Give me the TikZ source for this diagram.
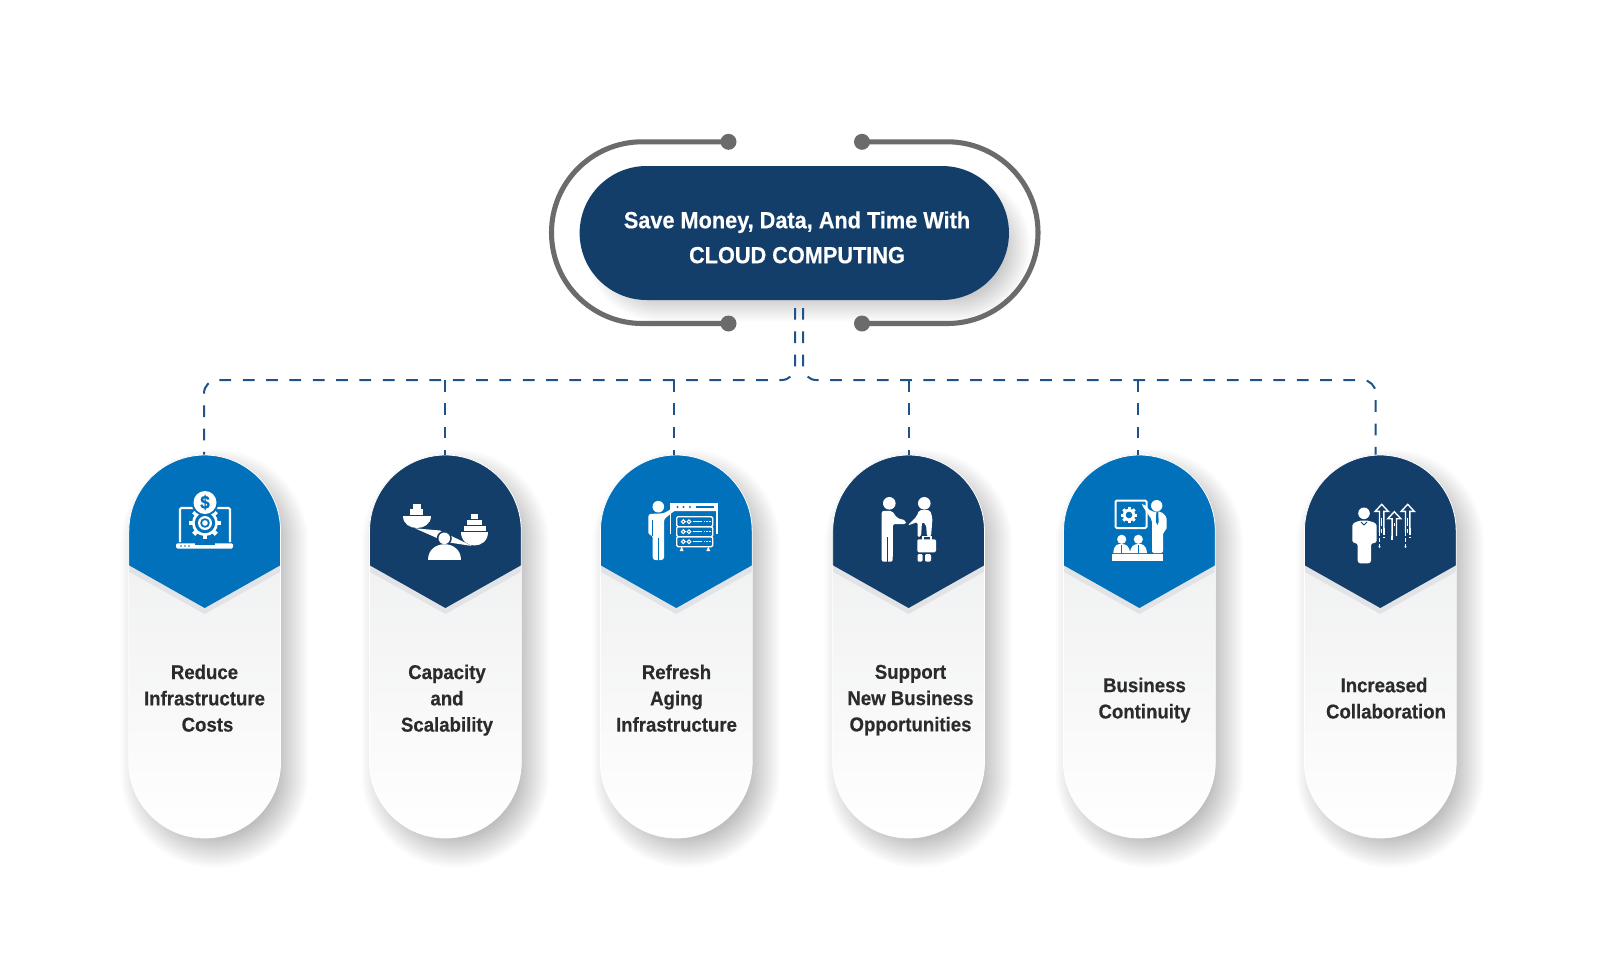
\documentclass[tikz,border=0pt]{standalone}
\usepackage{fontspec}
\setmainfont[FakeStretch=0.93,BoldFeatures={FakeBold=0.4}]{Liberation Sans}
\definecolor{brandblue}{HTML}{0071BA}
\definecolor{brandnavy}{HTML}{133E6A}
\definecolor{ringgray}{HTML}{6B6B6B}
\definecolor{busblue}{HTML}{1F5288}
\definecolor{labelink}{HTML}{2B2B2B}
\definecolor{bandgray}{HTML}{E2E3E6}
\definecolor{cardtop}{HTML}{ECEDEE}

% soft drop shadow: centre x, centre y, half width, half height, radius,
% outermost growth, layer opacity; 32 layers shrinking one unit each
\newcommand\softshadow[7]{%
  \foreach \k in {0,...,31}{%
    \pgfmathsetmacro\e{#6-\k}%
    \pgfmathsetmacro\rr{(#5+\e)*0.75}%
    \fill[black,opacity=#7,rounded corners=\rr pt]
      (#1-#3-\e,#2-#4-\e) rectangle (#1+#3+\e,#2+#4+\e);
  }%
}
% toothed wheel: x, y, body radius, tooth radius, tooth half width
\newcommand\cogwheel[5]{%
  \fill[white] (#1,#2) circle[radius=#3];
  \foreach \a in {0,45,90,135}{%
    \fill[white,rotate around={\a:(#1,#2)}] (#1-#5,#2-#4) rectangle (#1+#5,#2+#4);
  }%
}
% open outlined upward arrow with a broken shaft: x, tip y, bottom y
\newcommand\risingarrow[3]{%
  \draw[white,line width=1.05pt,line join=miter]
    (#1-2.2,#2+28) -- (#1-2.2,#2+7) -- (#1-6.5,#2+7) -- (#1,#2) -- (#1+6.5,#2+7) -- (#1+2.2,#2+7) -- (#1+2.2,#2+24);
  \draw[white,line width=1.05pt,dash pattern=on 3pt off 1.2pt] (#1-2.2,#2+28) -- (#1-2.2,#3);
  \draw[white,line width=1.05pt,dash pattern=on 5pt off 1.2pt] (#1+2.2,#2+24) -- (#1+2.2,#3-9);
  \draw[white,line width=.8pt,dash pattern=on 6pt off 2pt] (#1,#2+14) -- (#1,#3-14);
  \fill[white] (#1-2.2,#3) circle[radius=1.1];
}
% half disc hanging from a flat edge: left, right, edge y, depth
\newcommand\halfdisc[4]{%
  \fill[white] (#1,#3) .. controls (#1,#3+1.33*#4) and (#2,#3+1.33*#4) .. (#2,#3) -- cycle;
}
% one row of the server rack: top y
\newcommand\rackrow[1]{%
  \draw[white,line width=1pt,rounded corners=1pt] (676.7,#1) rectangle (712.7,#1+10);
  \draw[white,line width=.8pt] (683.3,#1+5) circle[radius=1.9] (689,#1+5) circle[radius=1.9];
  \draw[white,line width=1pt] (692.7,#1+5) -- (702,#1+5);
  \draw[white,line width=1pt,dash pattern=on 1pt off 1.2pt] (703.5,#1+5) -- (710.5,#1+5);
}

\tikzset{
  px/.style={x=0.75pt,y=-0.75pt},
  titlepill/.style={fill=brandnavy,rounded corners=50.25pt,
    minimum width=322pt,minimum height=100.5pt,inner sep=0pt},
  titletext/.style={text=white,align=center,inner sep=0pt,
    font=\bfseries\fontsize{17.5}{26.25}\selectfont,
    execute at begin node=\strut,execute at end node=\strut},
  ringdot/.style={circle,fill=ringgray,minimum size=12pt,inner sep=0pt},
  ringline/.style={draw=ringgray,line width=3.8pt,rounded corners=68pt},
  busline/.style={draw=busblue,line width=1.5pt,dash pattern=on 8.8pt off 8.7pt},
  busbend/.style={busline,rounded corners=10pt},
  infocard/.style={draw=white,line width=.6pt,rounded corners=57pt,inner sep=0pt,
    minimum width=113.8pt,minimum height=287.25pt,
    top color=cardtop,bottom color=white,middle color=cardtop!55!white,
    path picture={
      \fill[sharp corners,bandgray] (-90,-200) -- (90,-200) -- (90,-82) -- (77,-75.5) -- (0,-32.5) -- (-77,-75.5) -- (-90,-82) -- cycle;
      \fill[sharp corners,#1] (-90,-200) -- (90,-200) -- (90,-82) -- (77,-82) -- (0,-38.5) -- (-77,-82) -- (-90,-82) -- cycle;
    }},
  cardlabel/.style={text=labelink,align=center,inner sep=0pt,
    font=\bfseries\fontsize{15}{19.7}\selectfont,
    execute at begin node=\strut,execute at end node=\strut},
}

\begin{document}
\begin{tikzpicture}[px]
\useasboundingbox (0,0) rectangle (1600,954);
\fill[white] (0,0) rectangle (1600,954);

% ---- anchor points of the dashed tree
\coordinate (trunkL) at (795,308);
\coordinate (trunkR) at (803,308);
\coordinate (cornerA) at (204,380);
\coordinate (cornerF) at (1375.7,380);
\coordinate (tapB) at (445,380);
\coordinate (tapC) at (673.5,380);
\coordinate (tapD) at (908.5,380);
\coordinate (tapE) at (1137.7,380);

% ---- shadows
\softshadow{808}{247}{214.7}{67}{67}{8}{.009}
\softshadow{214.7}{658.5}{76}{191.5}{76}{18}{.009}
\softshadow{455.4}{658.5}{76}{191.5}{76}{18}{.009}
\softshadow{686.3}{658.5}{76}{191.5}{76}{18}{.009}
\softshadow{918.6}{658.5}{76}{191.5}{76}{18}{.009}
\softshadow{1149.4}{658.5}{76}{191.5}{76}{18}{.009}
\softshadow{1390.3}{658.5}{76}{191.5}{76}{18}{.009}

% ---- cards
\node[infocard=brandblue] (cardA) at (204.7,646.5) {};
\node[infocard=brandnavy] (cardB) at (445.4,646.5) {};
\node[infocard=brandblue] (cardC) at (676.3,646.5) {};
\node[infocard=brandnavy] (cardD) at (908.6,646.5) {};
\node[infocard=brandblue] (cardE) at (1139.4,646.5) {};
\node[infocard=brandnavy] (cardF) at (1380.3,646.5) {};

% ---- dashed tree
\draw[busbend] (trunkL) -- (trunkL |- cornerA) -- (cornerA) -- (cornerA |- cardA.north);
\draw[busbend] (trunkR) -- (trunkR |- cornerF) -- (cornerF) -- (cornerF |- cardF.north);
\draw[busline] (tapB) -- (tapB |- cardB.north);
\draw[busline] (tapC) -- (tapC |- cardC.north);
\draw[busline] (tapD) -- (tapD |- cardD.north);
\draw[busline] (tapE) -- (tapE |- cardE.north);

% ---- headline pill and its open ring
\node[titlepill] (title) at (794.3,233) {};
\node[titletext] (titlewords) at (797,242.5) {Save Money, Data, And Time With\\CLOUD COMPUTING};
\node[ringdot] (dotTL) at (728.5,141.8) {};
\node[ringdot] (dotBL) at (728.5,323.5) {};
\node[ringdot] (dotTR) at (862,141.8) {};
\node[ringdot] (dotBR) at (862,323.5) {};
\draw[ringline] (dotTL.center) -- (551.5,141.8) -- (551.5,323.5) -- (dotBL.center);
\draw[ringline] (dotTR.center) -- (1038,141.8) -- (1038,323.5) -- (dotBR.center);

% ---- card labels
\node[cardlabel] (labelA) at (204.5,702) {Reduce\\Infrastructure\\\hspace*{4.5pt}Costs};
\node[cardlabel] (labelB) at (447,702) {Capacity\\and\\Scalability};
\node[cardlabel] (labelC) at (676.5,702) {Refresh\\Aging\\Infrastructure};
\node[cardlabel] (labelD) at (910.5,702) {Support\\New Business\\Opportunities};
\node[cardlabel] (labelE) at (1144.5,702) {Business\\Continuity};
\node[cardlabel] (labelF) at (1386,702) {\hspace*{-3pt}Increased\\Collaboration};

% ---- icon: laptop, coin and gear
\draw[white,line width=1.6pt,rounded corners=1pt] (180,542) -- (180,508) -- (230,508) -- (230,542);
\fill[white,rounded corners=1pt] (176,543.3) rectangle (233,548.5);
\fill[brandblue] (195,543) rectangle (215,545.2);
\foreach \dx in {181,185,189}{\fill[brandblue] (\dx,546) circle[radius=.9];}
\cogwheel{205}{523}{13}{16}{2.2}
\fill[brandblue] (205,523) circle[radius=10.2];
\fill[white] (205,523) circle[radius=7];
\fill[brandblue] (205,523) circle[radius=4.8];
\fill[white] (205,523) circle[radius=2.8];
\fill[brandblue] (205,502.5) circle[radius=13.5];
\fill[white] (205,502.5) circle[radius=11.5];
\node[text=brandblue,inner sep=0pt,font=\bfseries\fontsize{14}{14}\selectfont] (coinsign) at (205,502.5) {\$};

% ---- icon: balance with stacked weights
\halfdisc{403.3}{431}{515.7}{12.5}
\fill[white] (410,509.3) rectangle (423.3,515);
\fill[white] (412.7,504.3) rectangle (421,508.5);
\halfdisc{461}{488.3}{531.7}{13.5}
\fill[white] (464,525.7) rectangle (485.7,531);
\fill[white] (466.7,520) rectangle (482.3,525);
\fill[white] (470.7,514.3) rectangle (478.3,519.3);
\fill[white] (415,528.3) -- (440,530.5) -- (472,546) -- (446,542) -- cycle;
\fill[brandnavy] (444.3,538.3) circle[radius=7.5];
\fill[white] (444.3,538.3) circle[radius=5.8];
\fill[white] (428.3,560) .. controls (428.3,539) and (460.7,539) .. (460.7,560) -- cycle;

% ---- icon: person beside a server window
\fill[white] (658.3,506.7) circle[radius=5.8];
\fill[white,rounded corners=2pt] (648.3,535) -- (648.3,514) -- (664,513.3) -- (676,506) -- (677,509) -- (664,519) -- (664,560) -- (652.7,560) -- (652.7,535) -- cycle;
\draw[brandblue,line width=.6pt] (658.3,538) -- (658.3,561);
\draw[brandblue,line width=.6pt] (652.2,520) -- (652.2,536);
\draw[white,line width=1pt] (670.5,534) -- (670.5,504) -- (717,504) -- (717,534);
\fill[white,rounded corners=1pt] (670,503.3) rectangle (717.3,511);
\foreach \dx in {677.5,683.5,690}{\fill[brandblue] (\dx,507) circle[radius=1.1];}
\fill[brandblue] (696,506) rectangle (713.5,508);
\rackrow{516.7}
\rackrow{526.7}
\rackrow{536.7}
\fill[white] (681.7,546.7) -- (683.7,551) -- (679.7,551) -- cycle;
\fill[white] (708.3,546.7) -- (710.3,551) -- (706.3,551) -- cycle;

% ---- icon: handshake
\fill[white] (889.3,503.3) circle[radius=6.3];
\fill[white,rounded corners=1.5pt] (881.7,561.7) -- (881.7,511) -- (892,510.7) -- (897,518) -- (906,520.5) -- (906,524) -- (893,524) -- (892.7,561.7) -- cycle;
\draw[brandnavy,line width=.7pt] (887.3,537) -- (887.3,562);
\fill[white] (924.3,503.3) circle[radius=6.3];
\fill[white,rounded corners=1.5pt] (907.7,525.5) -- (917,516) -- (919,510) -- (930,510) -- (932.5,518) -- (931,537) -- (927,537) -- (926,524) -- (922,522) -- (921,537) -- (917.5,537) -- (917.5,522) -- cycle;
\draw[white,line width=.8pt] (923,539.5) -- (923,536.5) -- (931,536.5) -- (931,539.5);
\fill[white,rounded corners=1pt] (917.3,539.3) rectangle (936,552.3);
\fill[white,rounded corners=1pt] (917.5,554) rectangle (922.6,561.7);
\fill[white,rounded corners=1pt] (925,554) rectangle (931,561.7);

% ---- icon: presenter and audience
\draw[white,line width=1.5pt,rounded corners=1pt] (1115.5,500.5) rectangle (1146.5,528);
\cogwheel{1129}{515}{6.2}{8}{1.5}
\fill[brandblue] (1129,515) circle[radius=3.3];
\fill[white] (1156.7,505.7) circle[radius=5.7];
\fill[white,rounded corners=1.5pt] (1141.5,504.5) -- (1143.5,503.5) -- (1151,511.5) -- (1161,511.5) -- (1166.7,517) -- (1166.7,530) -- (1163,532) -- (1163,553) -- (1152,553) -- (1152,520) -- cycle;
\fill[brandblue] (1156.3,512) -- (1158.3,512) -- (1158.6,522) -- (1157.3,525) -- (1156,522) -- cycle;
\fill[white] (1111.7,554.3) rectangle (1162.7,560.7);
\fill[white] (1121.7,539.3) circle[radius=4.6];
\fill[white] (1138.3,539.3) circle[radius=4.6];
\fill[white] (1113.3,553) .. controls (1114,544) and (1118,544) .. (1121.7,544) .. controls (1126,544) and (1129.5,546) .. (1130,553) .. controls (1130.5,546) and (1134,544) .. (1138.3,544) .. controls (1142,544) and (1146,544) .. (1147,553) -- cycle;
\draw[brandblue,line width=.6pt] (1121.7,545) -- (1121.7,552.5) (1138.3,545) -- (1138.3,552.5);

% ---- icon: person with rising arrows
\fill[white] (1364,513.3) circle[radius=5.8];
\fill[white,rounded corners=2pt] (1352.3,543) -- (1352.3,523.5) -- (1360,520.5) -- (1368,520.5) -- (1376.7,523.5) -- (1376.7,543) -- (1371,543) -- (1371,563.3) -- (1357.7,563.3) -- (1357.7,543) -- cycle;
\draw[brandnavy,line width=.6pt] (1361,522) -- (1364,525) -- (1367,522);
\risingarrow{1381.7}{504.3}{546.7}
\risingarrow{1394.3}{511.7}{536.7}
\risingarrow{1407.7}{504.3}{546.7}
\end{tikzpicture}
\end{document}
